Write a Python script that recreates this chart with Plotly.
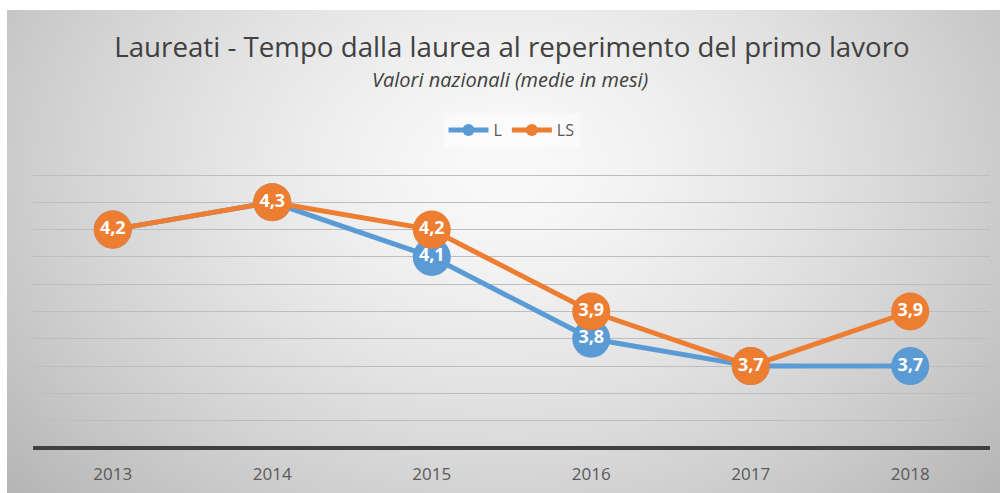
import base64, struct, zlib
import numpy as np
import plotly.graph_objects as go

years = ["2013", "2014", "2015", "2016", "2017", "2018"]
l_values = [4.2, 4.3, 4.1, 3.8, 3.7, 3.7]
ls_values = [4.2, 4.3, 4.2, 3.9, 3.7, 3.9]

BLUE = "#5B9BD5"
ORANGE = "#ED7D31"
GREY_TXT = "#595959"
FONT = "Open Sans"


def fmt(v):
    return f"{v:.1f}".replace(".", ",")


def gradient_png(w=250, h=121):
    ys, xs = np.mgrid[0:h, 0:w]
    cx, cy = w * 0.5, h * 0.32
    d = np.sqrt(((xs - cx) / (w * 0.62)) ** 2 + ((ys - cy) / (h * 0.95)) ** 2)
    v = 250 - 62 * np.clip(d, 0, 1.3) ** 1.4
    v = np.clip(v, 0, 255).astype(np.uint8)
    raw = b"".join(b"\x00" + bytes(row) for row in v)

    def chunk(tag, data):
        c = struct.pack(">I", len(data)) + tag + data
        return c + struct.pack(">I", zlib.crc32(tag + data) & 0xFFFFFFFF)

    png = b"\x89PNG\r\n\x1a\n"
    png += chunk(b"IHDR", struct.pack(">IIBBBBB", w, h, 8, 0, 0, 0, 0))
    png += chunk(b"IDAT", zlib.compress(raw, 9))
    png += chunk(b"IEND", b"")
    return "data:image/png;base64," + base64.b64encode(png).decode()


W, H = 1000, 493
L, R, T, B = 33, 10, 172, 47
pw, ph = W - L - R, H - T - B
Y0, Y1 = 3.4073, 4.411


def py(px):
    """paper y coordinate of a pixel row"""
    return (H - B - px) / ph


fig = go.Figure()
for name, vals, col in [("L", l_values, BLUE), ("LS", ls_values, ORANGE)]:
    fig.add_trace(go.Scatter(
        x=years, y=vals, name=name, mode="lines+markers+text",
        line=dict(color=col, width=5),
        marker=dict(color=col, size=38),
        text=[fmt(v) for v in vals], textposition="middle center",
        textfont=dict(family=FONT, size=18, color="white", weight="bold"),
        cliponaxis=False,
    ))

fig.add_layout_image(dict(
    source=gradient_png(), xref="paper", yref="paper",
    x=(7 - L) / pw, y=py(10),
    sizex=(W - 7) / pw, sizey=(H - 10) / ph,
    xanchor="left", yanchor="top", sizing="stretch", layer="below",
))

fig.add_annotation(
    text="<i>Valori nazionali (medie in mesi)</i>", xref="paper", yref="paper",
    x=(510 - L) / pw, y=py(80), showarrow=False,
    font=dict(family=FONT, size=20, color="#404040"),
    xanchor="center", yanchor="middle",
)

fig.update_layout(
    width=W, height=H,
    margin=dict(l=L, r=R, t=T, b=B),
    paper_bgcolor="white", plot_bgcolor="rgba(0,0,0,0)",
    title=dict(
        text="Laureati - Tempo dalla laurea al reperimento del primo lavoro",
        x=512 / W, xanchor="center", y=1 - 47 / H, yanchor="middle",
        font=dict(family=FONT, size=27.7, color="#404040"),
    ),
    legend=dict(
        orientation="h", x=0.5, xanchor="center",
        y=py(113), yanchor="top",
        bgcolor="rgba(255,255,255,0.45)",
        font=dict(family=FONT, size=16, color=GREY_TXT),
        itemsizing="constant", itemwidth=40,
    ),
    xaxis=dict(
        type="category", range=[-0.5, 5.5], automargin=False,
        showline=True, linecolor="#404040", linewidth=4,
        showgrid=False, zeroline=False,
        ticks="outside", ticklen=10, tickcolor="rgba(0,0,0,0)",
        tickfont=dict(family=FONT, size=17, color=GREY_TXT),
    ),
    yaxis=dict(
        range=[Y0, Y1], tick0=3.4, dtick=0.1, automargin=False,
        showgrid=True, gridcolor="#bdbdbd", gridwidth=1,
        showticklabels=False, zeroline=False, showline=False,
    ),
    showlegend=True,
)

fig.write_html("out.html", config={"displayModeBar": False},
               post_script="document.body.style.margin='0';")
